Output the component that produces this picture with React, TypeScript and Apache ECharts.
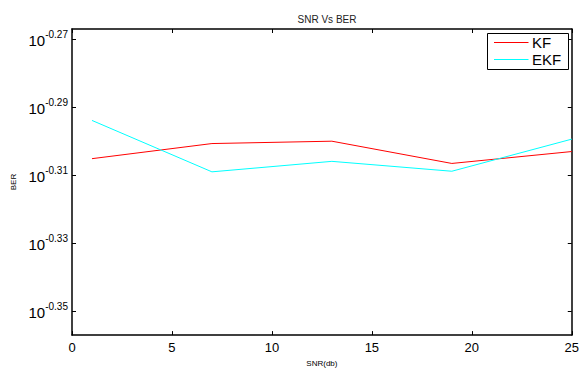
import React, { useEffect, useRef } from "react";
import * as echarts from "echarts";

const snr = [1, 7, 13, 19, 25];
const berKF = [0.4952, 0.5003, 0.5011, 0.4936, 0.4976];
const berEKF = [0.5082, 0.4908, 0.4943, 0.491, 0.5018];
const xTicks = [0, 5, 10, 15, 20, 25];
const yTickExponents = [-0.35, -0.33, -0.31, -0.29, -0.27];
const yMinExp = -0.35714;
const yMaxExp = -0.26706;
const seriesNames = ["KF", "EKF"];
const seriesColors = ["#ff0000", "#00ffff"];

const FONT = "Liberation Sans, Arial, Helvetica, sans-serif";

export default function App() {
  const ref = useRef<HTMLDivElement>(null);
  useEffect(() => {
    if (!ref.current) return;
    const chart = echarts.init(ref.current, undefined, { renderer: "svg" });
    const toPts = (ys: number[]) => snr.map((x, i) => [x, Math.log10(ys[i])]);
    const mkTick = () => ({ show: true, inside: true, length: 4, lineStyle: { color: "#000", width: 1 } });
    const mkLine = () => ({ show: true, onZero: false, lineStyle: { color: "#000", width: 1.5 } });

    const legendBox = { x: 487.5, y: 33.5, w: 81, h: 36 };
    const legendItems: any[] = [];
    seriesNames.forEach((n, i) => {
      const cy = 42.5 + i * 17;
      legendItems.push({
        type: "line",
        shape: { x1: 494, y1: cy, x2: 528.5, y2: cy },
        style: { stroke: seriesColors[i], lineWidth: 1 },
        z: 101,
      });
      legendItems.push({
        type: "text",
        x: 532,
        y: cy,
        style: {
          text: n,
          fontSize: 15,
          fontFamily: FONT,
          fill: "#000",
          verticalAlign: "middle",
          align: "left",
        },
        z: 101,
      });
    });

    chart.setOption({
      animation: false,
      backgroundColor: "#fff",
      textStyle: { fontFamily: FONT },
      title: {
        text: "SNR Vs BER",
        left: 322,
        top: 9,
        textAlign: "center",
        textStyle: { fontSize: 10, fontWeight: "normal", color: "#222", fontFamily: FONT },
      },
      graphic: [
        {
          type: "rect",
          shape: { x: legendBox.x, y: legendBox.y, width: legendBox.w, height: legendBox.h },
          style: { fill: "#fff", stroke: "#000", lineWidth: 1 },
          z: 100,
        },
        ...legendItems,
      ],
      grid: { left: 72, right: 9, top: 29, bottom: 28, containLabel: false },
      xAxis: [
        {
          type: "value",
          min: 0,
          max: 25,
          interval: 5,
          position: "bottom",
          name: "SNR(db)",
          nameLocation: "middle",
          nameGap: 22,
          nameTextStyle: { fontSize: 8, color: "#000", fontFamily: FONT },
          axisLine: mkLine(),
          axisTick: mkTick(),
          splitLine: { show: false },
          axisLabel: {
            margin: 6,
            fontSize: 13,
            color: "#000",
            fontFamily: FONT,
            customValues: xTicks,
          },
        },
        {
          type: "value",
          min: 0,
          max: 25,
          interval: 5,
          position: "top",
          axisLine: mkLine(),
          axisTick: mkTick(),
          splitLine: { show: false },
          axisLabel: { show: false },
        },
      ],
      yAxis: [
        {
          type: "value",
          min: yMinExp,
          max: yMaxExp,
          position: "left",
          name: "BER",
          nameLocation: "middle",
          nameGap: 54,
          nameTextStyle: { fontSize: 8, color: "#000", fontFamily: FONT },
          axisLine: mkLine(),
          axisTick: { ...mkTick(), customValues: yTickExponents },
          splitLine: { show: false },
          axisLabel: {
            customValues: yTickExponents,
            margin: 4,
            formatter: (v: number) => `{b|10}{s|${v.toFixed(2)}}`,
            rich: {
              b: { fontSize: 15, color: "#000", fontFamily: FONT, lineHeight: 18, verticalAlign: "bottom" },
              s: { fontSize: 10, color: "#000", fontFamily: FONT, lineHeight: 11, verticalAlign: "top" },
            },
          },
        },
        {
          type: "value",
          min: yMinExp,
          max: yMaxExp,
          position: "right",
          axisLine: mkLine(),
          axisTick: { ...mkTick(), customValues: yTickExponents },
          splitLine: { show: false },
          axisLabel: { show: false },
        },
      ],
      series: [
        {
          name: seriesNames[0],
          type: "line",
          data: toPts(berKF),
          symbol: "none",
          lineStyle: { color: seriesColors[0], width: 1 },
          itemStyle: { color: seriesColors[0] },
        },
        {
          name: seriesNames[1],
          type: "line",
          data: toPts(berEKF),
          symbol: "none",
          lineStyle: { color: seriesColors[1], width: 1 },
          itemStyle: { color: seriesColors[1] },
        },
      ],
    });
    return () => chart.dispose();
  }, []);
  return (
    <div
      ref={ref}
      style={{ position: "absolute", left: 0, top: 0, width: 582, height: 372, background: "#fff" }}
    />
  );
}
